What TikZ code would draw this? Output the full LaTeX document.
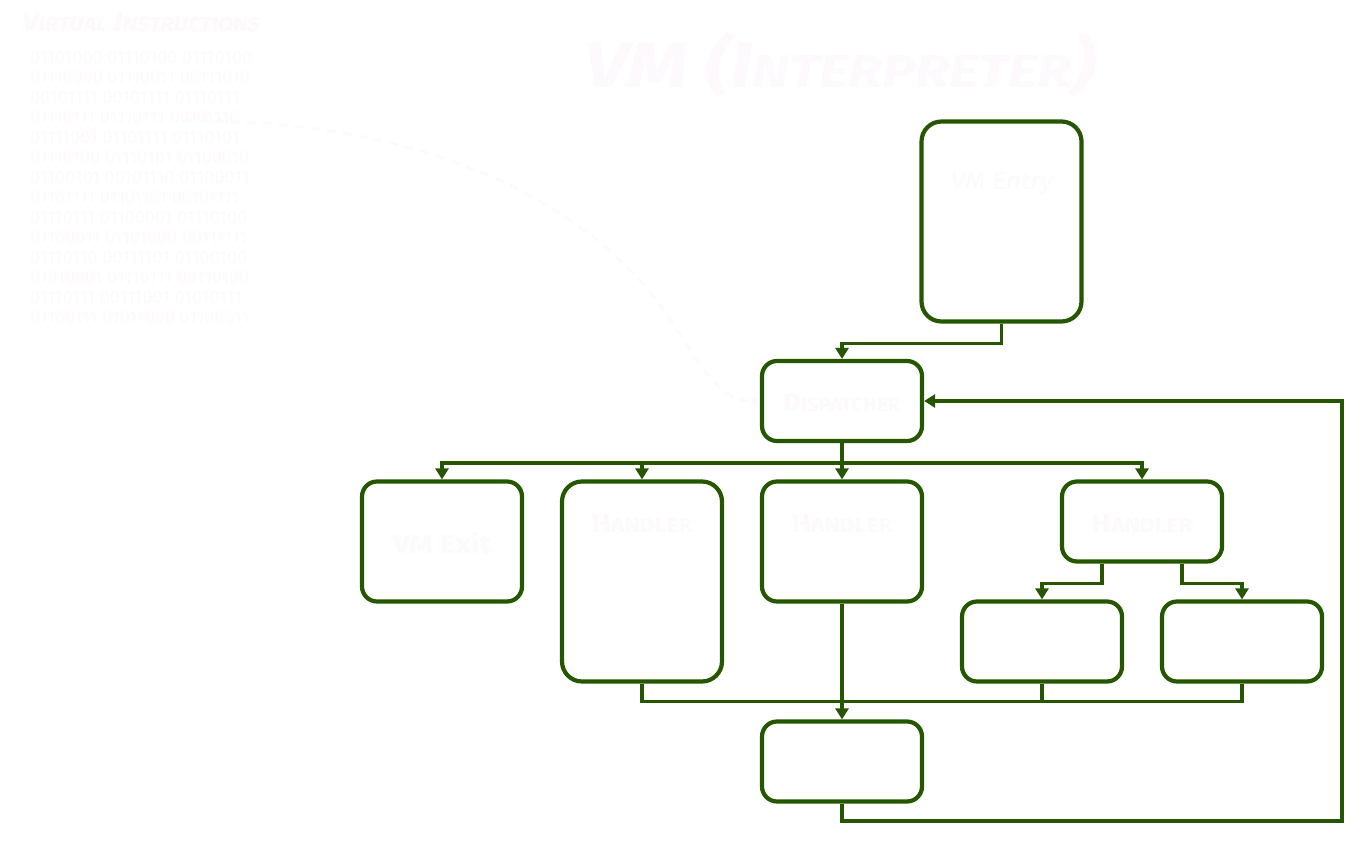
\documentclass[tikz,border=0pt]{standalone}
\usepackage{fontspec}
\setmainfont{Fira Sans}
\usetikzlibrary{arrows.meta}
\definecolor{vmgreen}{RGB}{38,86,0}
\definecolor{ghost}{RGB}{253,249,252}
\begin{document}
\begin{tikzpicture}[x=1pt,y=-1pt,
  box/.style={draw=vmgreen,line width=4.2pt,rounded corners=15pt,minimum width=160pt,minimum height=80pt,inner sep=0pt},
  tallbox/.style={box,rounded corners=20pt},
  wire/.style={draw=vmgreen,line width=3.6pt},
  arr/.style={wire,-{Triangle[width=13pt,length=11pt]}},
  ghosttext/.style={text=ghost,inner sep=0pt},
  ghostline/.style={draw=ghost,line width=3pt,dash pattern=on 9pt off 7pt,-{Triangle[width=9pt,length=8pt]}}]
\useasboundingbox (0,0) rectangle (1362,842);

% left column: virtual instructions
\node[ghosttext,font=\fontsize{27}{27}\selectfont\bfseries\itshape] (vititle) at (141,22)
  {\scalebox{1.1}[1]{V{\fontsize{20}{20}\selectfont IRTUAL} I{\fontsize{20}{20}\selectfont NSTRUCTIONS}}};
\node[ghosttext,font=\fontsize{18}{20}\selectfont,align=left,anchor=north west] (bits) at (30,51)
  {01101000 01110100 01110100\\
   01110000 01110011 00111010\\
   00101111 00101111 01110111\\
   01110111 01110111 00101110\\
   01111001 01101111 01110101\\
   01110100 01110101 01100010\\
   01100101 00101110 01100011\\
   01101111 01101101 00101111\\
   01110111 01100001 01110100\\
   01100011 01101000 00111111\\
   01110110 00111101 01100100\\
   01010001 01110111 00110100\\
   01110111 00111001 01010111\\
   01100111 01011000 01100011};
\coordinate (vstart) at (183,121);
\coordinate (vbend) at (680,335);

% title
\node[ghosttext,font=\fontsize{64}{64}\selectfont\bfseries\itshape] (title) at (840,65)
  {\scalebox{1.22}[1]{VM (I{\fontsize{46}{46}\selectfont NTERPRETER})}};

% boxes
\node[tallbox,minimum height=200pt] (entry) at (1001.5,221.5) {};
\node[box] (disp) at (842,401) {};
\node[box,minimum height=120pt] (exit) at (442,541.5) {};
\node[tallbox,minimum height=200pt] (h1) at (642,581.5) {};
\node[box,minimum height=120pt] (h2) at (842,541.5) {};
\node[box] (h3) at (1142,521.5) {};
\node[box] (s1) at (1042,641.5) {};
\node[box] (s2) at (1242,641.5) {};
\node[box] (bot) at (842,761.5) {};

% labels
\node[ghosttext,font=\fontsize{25}{25}\selectfont\itshape] (entrylbl) at (1002,184)
  {\scalebox{1.05}[1]{VM Entry}};
\node[ghosttext,font=\fontsize{25}{25}\selectfont\bfseries] (displbl) at (842,403)
  {\scalebox{1.08}[1]{D{\fontsize{19}{19}\selectfont ISPATCHER}}};
\node[ghosttext,font=\fontsize{26}{26}\selectfont\bfseries] (exitlbl) at (442,543)
  {\scalebox{1.15}[1]{VM Exit}};
\node[ghosttext,font=\fontsize{26}{26}\selectfont\bfseries] (h1lbl) at (642,523)
  {\scalebox{1.15}[1]{H{\fontsize{20}{20}\selectfont ANDLER}}};
\node[ghosttext,font=\fontsize{26}{26}\selectfont\bfseries] (h2lbl) at (842,523)
  {\scalebox{1.15}[1]{H{\fontsize{20}{20}\selectfont ANDLER}}};
\node[ghosttext,font=\fontsize{26}{26}\selectfont\bfseries] (h3lbl) at (1142,523)
  {\scalebox{1.15}[1]{H{\fontsize{20}{20}\selectfont ANDLER}}};

% connectors
\draw[arr] (entry.south) -- ++(0,20) -| (disp.north);
\draw[arr] (disp.south) -- ++(0,20) -| (exit.north);
\draw[arr] (disp.south) -- ++(0,20) -| (h1.north);
\draw[arr] (disp.south) -- (h2.north);
\draw[arr] (disp.south) -- ++(0,20) -| (h3.north);
\draw[arr] ([xshift=-40pt]h3.south) -- ++(0,20) -| (s1.north);
\draw[arr] ([xshift=40pt]h3.south) -- ++(0,20) -| (s2.north);
\coordinate (merge) at (842,701.5);
\draw[wire] (h1.south) |- (merge);
\draw[wire] (s2.south) |- (merge);
\draw[wire] (s1.south) -- (s1.south |- merge);
\draw[arr] (h2.south) -- (bot.north);
\coordinate (loop) at (1342,821);
\draw[arr] (bot.south) |- (loop) |- (disp.east);

% dashed curve from instructions to dispatcher
\draw[ghostline] (vstart) .. controls (420,118) and (600,200) .. (vbend)
  .. controls (715,390) and (730,401) .. (disp.west);
\end{tikzpicture}
\end{document}
